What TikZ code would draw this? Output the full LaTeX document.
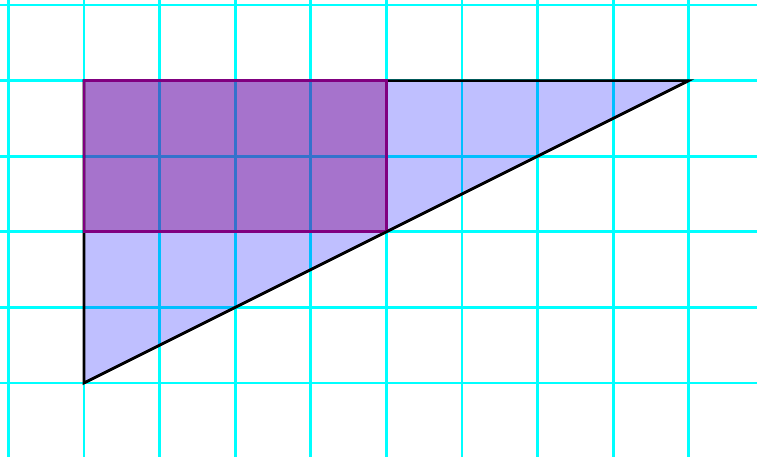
\documentclass[tikz,border=0pt]{standalone}
\definecolor{gridcyan}{RGB}{0,255,255}
\definecolor{boxpurple}{RGB}{128,0,128}
\definecolor{triblue}{RGB}{0,0,255}
\begin{document}
\begin{tikzpicture}[scale=1]
    \tikzstyle{gridline}=[gridcyan, line width=1.1pt]
    \tikzstyle{tri}=[fill=triblue, fill opacity=0.25]
    \tikzstyle{box}=[draw=boxpurple, line width=1.1pt, fill=boxpurple, fill opacity=0.4]
    \useasboundingbox (-1.111,-0.975) rectangle (8.902,5.066);
    \clip (-1.111,-0.975) rectangle (8.902,5.066);
    % grid
    \draw[gridline] (-1.5,-1.5) grid (9.5,5.5);
    % corners
    \coordinate (a) at (0,0);
    \coordinate (b) at (8,4);
    \coordinate (c) at (0,4);
    \coordinate (d) at (4,2);
    \coordinate (e) at (0,2);
    \coordinate (f) at (4,4);
    % triangle
    \fill[tri] (a) -- (b) -- (c) -- cycle;
    \draw[black, line width=1pt] (a) -- (b) -- (c) -- cycle;
    % rectangle
    \draw[box] (e) rectangle (f);
    \draw[black, line width=1pt] (a) -- (b);
\end{tikzpicture}
\end{document}
